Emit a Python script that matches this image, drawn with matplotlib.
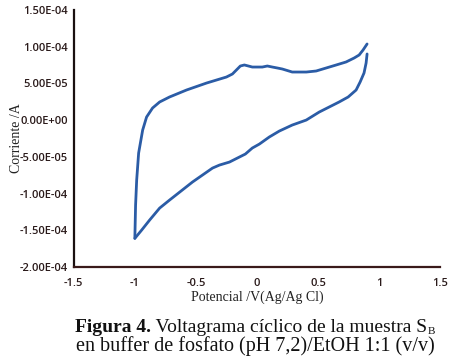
import matplotlib
matplotlib.use("Agg")
import matplotlib.pyplot as plt

# Forward (upper) branch: from -1.0 V up to the right vertex (current in 1e-5 A)
fwd_x = [-1.0, -0.994, -0.985, -0.969, -0.936, -0.904, -0.855, -0.797, -0.716, -0.577,
         -0.413, -0.250, -0.201, -0.168, -0.136, -0.103, -0.070, -0.038, 0.003, 0.044,
         0.085, 0.126, 0.167, 0.208, 0.289, 0.404, 0.485, 0.567, 0.649, 0.730,
         0.796, 0.837, 0.869, 0.902]
fwd_y = [-16.1, -11.57, -8.16, -4.48, -1.35, 0.42, 1.65, 2.47, 3.15, 4.10,
         5.05, 5.87, 6.28, 6.83, 7.37, 7.51, 7.37, 7.23, 7.23, 7.23,
         7.37, 7.23, 7.10, 6.96, 6.55, 6.55, 6.69, 7.10, 7.51, 7.92,
         8.46, 8.87, 9.55, 10.37]
# Reverse (lower) branch: from right vertex back to -1.0 V
rev_x = [0.902, 0.894, 0.877, 0.845, 0.812, 0.747, 0.673, 0.510, 0.404, 0.289,
         0.183, 0.101, 0.020, -0.038, -0.095, -0.144, -0.225, -0.307, -0.364, -0.528,
         -0.716, -0.797, -0.879, -0.944, -1.0]
rev_y = [9.01, 7.78, 6.42, 5.19, 4.10, 3.15, 2.47, 1.10, 0.01, -0.67,
         -1.49, -2.30, -3.26, -3.80, -4.62, -5.03, -5.71, -6.12, -6.53, -8.43,
         -10.89, -11.98, -13.61, -14.97, -16.1]
scale = 1e-5

x_ticks = [-1.5, -1, -0.5, 0, 0.5, 1, 1.5]
x_labels = ["-1.5", "-1", "-0.5", "0", "0.5", "1", "1.5"]
y_ticks = [1.5e-4, 1.0e-4, 5e-5, 0, -5e-5, -1e-4, -1.5e-4, -2e-4]
y_labels = ["1.50E-04", "1.00E-04", "5.00E-05", "0.00E+00", "-5.00E-05",
            "-1.00E-04", "-1.50E-04", "-2.00E-04"]

fig = plt.figure(figsize=(4.5, 3.63), dpi=100)
ax = fig.add_axes([0.164, 0.2645, 0.814, 0.708])

color = "#2b5ca6"
ax.plot(fwd_x, [v * scale for v in fwd_y], color=color, lw=2.0,
        solid_capstyle='round', solid_joinstyle='round')
ax.plot(rev_x, [v * scale for v in rev_y], color=color, lw=2.0,
        solid_capstyle='round', solid_joinstyle='round')

ax.set_xlim(-1.5, 1.5)
ax.set_ylim(-2e-4, 1.5e-4)
ax.set_xticks(x_ticks)
ax.set_xticklabels(x_labels)
ax.set_yticks(y_ticks)
ax.set_yticklabels(y_labels)
for lab in ax.get_xticklabels() + ax.get_yticklabels():
    lab.set_fontfamily("Open Sans")
    lab.set_fontsize(8)
    lab.set_fontweight("semibold")
    lab.set_color("#2a1a1a")
ax.tick_params(axis='y', length=0, pad=4)
ax.tick_params(axis='x', length=0, pad=8)
ax.spines['top'].set_visible(False)
ax.spines['right'].set_visible(False)
ax.spines['left'].set_linewidth(1.6)
ax.spines['bottom'].set_linewidth(1.6)
ax.spines['left'].set_color("#1a1010")
ax.spines['bottom'].set_color("#3a1a1a")

ax.set_xlabel("Potencial /V(Ag/Ag Cl)", fontfamily="Liberation Serif", fontsize=10, labelpad=1, color="#222222")
ax.set_ylabel("Corriente /A", fontfamily="Liberation Serif", fontsize=10, labelpad=-2, color="#222222")

# Caption line 1: bold "Figura 4." + regular text + subscript, centred as a whole
renderer = fig.canvas.get_renderer()
W = fig.bbox.width
y1 = 0.099
parts = [("Figura 4.", dict(fontweight="bold", fontsize=14), 0.0),
         (" Voltagrama cíclico de la muestra S", dict(fontsize=14), 0.0),
         ("B", dict(fontsize=8), -0.012)]
texts = []
x = 0.0
for s, kw, dy in parts:
    t = fig.text(x, y1 + dy, s, ha="left", va="center", fontfamily="Liberation Serif",
                 color="#111111", **kw)
    w = t.get_window_extent(renderer).width / W
    texts.append((t, x))
    x += w
total = x
x0 = 0.567 - total / 2
for t, xr in texts:
    t.set_x(x0 + xr)

fig.text(0.567, 0.047, "en buffer de fosfato (pH 7,2)/EtOH 1:1 (v/v)",
         ha="center", va="center", fontfamily="Liberation Serif", fontsize=14.5, color="#111111")

fig.savefig("out.png", dpi=100)
